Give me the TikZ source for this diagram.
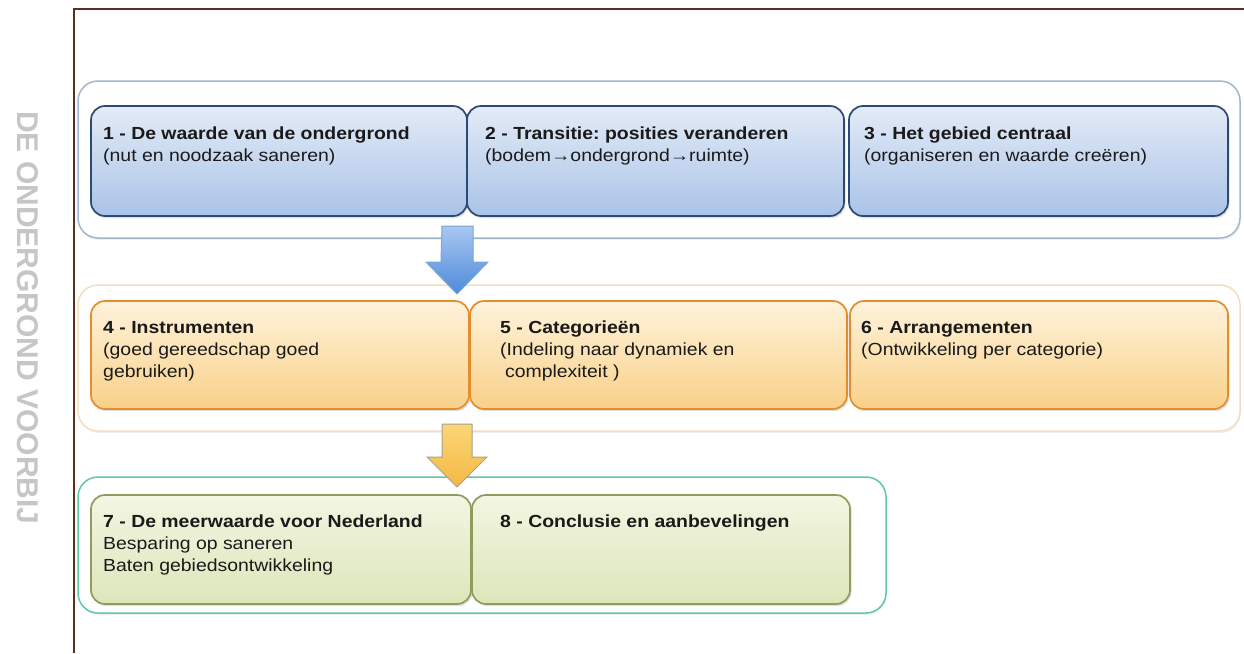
\documentclass[tikz,border=0pt]{standalone}
\usepackage{fontspec}
\setmainfont{Liberation Sans}
\newfontfamily\boxfont[FakeStretch=1.11]{Liberation Sans}
\usetikzlibrary{calc,shadows}
\frenchspacing

\definecolor{framebrown}{HTML}{5C2E1E}
\definecolor{sidegray}{HTML}{C6C6C6}
\definecolor{inktext}{HTML}{1A1A1A}
% blue row
\definecolor{bluetop}{HTML}{E3EBF7}
\definecolor{bluebot}{HTML}{AAC3E8}
\definecolor{blueline}{HTML}{2D4A74}
\definecolor{bluegroup}{HTML}{A3B6CB}
% orange row
\definecolor{orgtop}{HTML}{FFF3DC}
\definecolor{orgbot}{HTML}{F9D088}
\definecolor{orgline}{HTML}{E38D2E}
\definecolor{orggroup}{HTML}{F2DEC4}
% green row
\definecolor{grntop}{HTML}{F3F6E2}
\definecolor{grnbot}{HTML}{DCE6BA}
\definecolor{grnline}{HTML}{8E9C5C}
\definecolor{grngroup}{HTML}{5EC8A8}
% block arrows
\definecolor{arrbluetop}{HTML}{A8C8F2}
\definecolor{arrbluebot}{HTML}{4E8AD8}
\definecolor{arrblueline}{HTML}{7AA3D8}
\definecolor{arryeltop}{HTML}{FBD678}
\definecolor{arryelbot}{HTML}{F4B843}
\definecolor{arryelline}{HTML}{A8A08C}

\begin{document}
\begin{tikzpicture}[x=1pt,y=-1pt,
  group/.style={draw, line width=1.5pt, fill=white, rounded corners=20pt,
    inner sep=0pt, outer sep=0pt, anchor=north west,
    drop shadow={opacity=0.12, shadow xshift=1pt, shadow yshift=-2pt}},
  stepbox/.style={line width=1.7pt, rounded corners=14pt,
    inner sep=0pt, outer sep=0pt, anchor=north west,
    drop shadow={opacity=0.25, shadow xshift=1.5pt, shadow yshift=-2pt}},
  bluebox/.style={stepbox, draw=blueline, top color=bluetop, bottom color=bluebot},
  orangebox/.style={stepbox, draw=orgline, top color=orgtop, bottom color=orgbot},
  greenbox/.style={stepbox, draw=grnline, top color=grntop, bottom color=grnbot},
  boxtext/.style={anchor=north west, inner sep=0pt, align=left, text=inktext,
    font=\boxfont\fontsize{17.5}{22}\selectfont},
  blockarrow/.style={line width=1pt, line join=miter}
]
\useasboundingbox (0,0) rectangle (1244,653);

% page frame
\draw[framebrown, line width=2.5pt] (1244,9) -- (74,9) -- (74,653);

% running head in the margin
\node[rotate=-90, text=sidegray, inner sep=0pt,
  font=\bfseries\fontsize{30}{30}\selectfont] (side) at (28,318) {DE ONDERGROND VOORBIJ};

% group frames
\node[group, draw=bluegroup, minimum width=1162pt, minimum height=157pt] (c1) at (78,81) {};
\node[group, draw=orggroup,  minimum width=1162pt, minimum height=146pt] (c2) at (78,285) {};
\node[group, draw=grngroup,  minimum width=808pt,  minimum height=136pt] (c3) at (78,477) {};

% block arrows between the groups
\coordinate (a1) at (457.5,226);
\coordinate (a2) at (457,424);
\draw[blockarrow, draw=arrblueline, top color=arrbluetop, bottom color=arrbluebot]
  (a1) ++(-15.5,0) -- ++(31,0) -- ++(0,36) -- ++(15,0) -- ++(-31,32)
  -- ++(-31,-32) -- ++(15,0) -- cycle;
\draw[blockarrow, draw=arryelline, top color=arryeltop, bottom color=arryelbot]
  (a2) ++(-15,0) -- ++(30,0) -- ++(0,33) -- ++(15,0) -- ++(-30,30)
  -- ++(-30,-30) -- ++(15,0) -- cycle;

% row 1
\node[bluebox, minimum width=376pt, minimum height=110pt] (b1) at (91,106) {};
\node[bluebox, minimum width=377pt, minimum height=110pt] (b2) at (467,106) {};
\node[bluebox, minimum width=379pt, minimum height=110pt] (b3) at (849,106) {};
% row 2
\node[orangebox, minimum width=378pt, minimum height=108pt] (b4) at (91,301) {};
\node[orangebox, minimum width=377pt, minimum height=108pt] (b5) at (470,301) {};
\node[orangebox, minimum width=378pt, minimum height=108pt] (b6) at (850,301) {};
% row 3
\node[greenbox, minimum width=380pt, minimum height=109pt] (b7) at (91,495) {};
\node[greenbox, minimum width=378pt, minimum height=109pt] (b8) at (472,495) {};

% texts
\node[boxtext] (t1) at ($(b1.north west)+(12,18)$)
  {\strut\textbf{1 - De waarde van de ondergrond}\\(nut en noodzaak saneren)};
\node[boxtext] (t2) at ($(b2.north west)+(18,18)$)
  {\strut\textbf{2 - Transitie: posities veranderen}\\(bodem→ondergrond→ruimte)};
\node[boxtext] (t3) at ($(b3.north west)+(15,18)$)
  {\strut\textbf{3 - Het gebied centraal}\\(organiseren en waarde creëren)};
\node[boxtext] (t4) at ($(b4.north west)+(12,17)$)
  {\strut\textbf{4 - Instrumenten}\\(goed gereedschap goed\\gebruiken)};
\node[boxtext] (t5) at ($(b5.north west)+(30,17)$)
  {\strut\textbf{5 - Categorieën}\\(Indeling naar dynamiek en\\\hspace*{0.28em}complexiteit )};
\node[boxtext] (t6) at ($(b6.north west)+(11,17)$)
  {\strut\textbf{6 - Arrangementen}\\(Ontwikkeling per categorie)};
\node[boxtext] (t7) at ($(b7.north west)+(12,17)$)
  {\strut\textbf{7 - De meerwaarde voor Nederland}\\Besparing op saneren\\Baten gebiedsontwikkeling};
\node[boxtext] (t8) at ($(b8.north west)+(28,17)$)
  {\strut\textbf{8 - Conclusie en aanbevelingen}};
\end{tikzpicture}
\end{document}
